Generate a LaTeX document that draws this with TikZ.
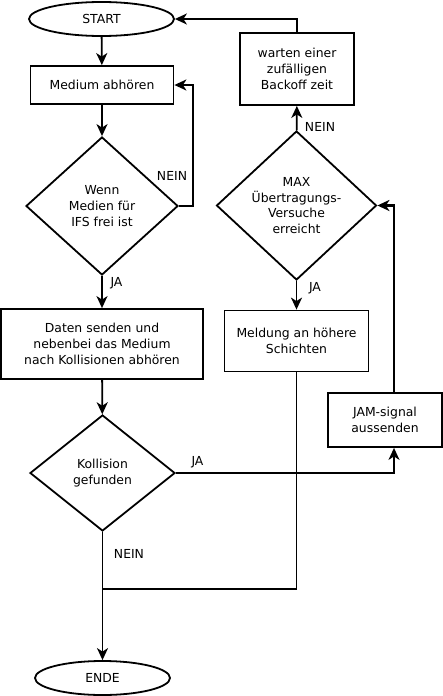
\documentclass[tikz,border=0pt]{standalone}
\usepackage{fontspec}
\setmainfont{DejaVu Sans}
\usetikzlibrary{arrows.meta,shapes.geometric,calc}
\tikzset{
  base/.style={draw=black,line width=1.8pt,font=\fontsize{12.4}{15.8}\selectfont,align=center,inner sep=0pt},
  term/.style={base,ellipse},
  proc/.style={base,rectangle},
  dec/.style={base,diamond},
  lbl/.style={font=\fontsize{12.4}{15.8}\selectfont,inner sep=0pt},
  conn/.style={line width=1.8pt,draw=black},
  arr/.style={conn,-{Stealth[length=12pt,width=11pt,inset=3.5pt]}},
}
\begin{document}
\begin{tikzpicture}[x=1pt,y=-1pt]
\useasboundingbox[fill=white] (0,0) rectangle (443,696);
% nodes
\node[term,minimum width=145pt,minimum height=34pt] (start) at (101.5,19) {START};
\node[proc,minimum width=143pt,minimum height=38pt] (medium) at (102,85) {Medium abhören};
\node[dec,minimum width=152pt,minimum height=138pt] (d1) at (102,206) {Wenn\\Medien für\\IFS frei ist};
\node[proc,minimum width=202pt,minimum height=70pt] (daten) at (102,344) {Daten senden und\\nebenbei das Medium\\nach Kollisionen abhören};
\node[dec,minimum width=145pt,minimum height=116pt] (d3) at (102.5,473) {Kollision\\gefunden};
\node[term,minimum width=135pt,minimum height=34pt] (ende) at (102.5,678) {ENDE};
\node[proc,minimum width=114pt,minimum height=72pt] (warten) at (297,69) {warten einer\\zufälligen\\Backoff zeit};
\node[dec,minimum width=160pt,minimum height=149pt] (d2) at (296.5,205.5) {MAX\\Übertragungs-\\Versuche\\erreicht};
\node[proc,minimum width=144pt,minimum height=61pt] (meldung) at (296.5,341) {Meldung an höhere\\Schichten};
\node[proc,minimum width=114pt,minimum height=54pt] (jam) at (385,420) {JAM-signal\\aussenden};
% labels
\node[lbl] (l1) at (172,176) {NEIN};
\node[lbl] (l2) at (116.5,283) {JA};
\node[lbl] (l3) at (320,127) {NEIN};
\node[lbl] (l4) at (315,288) {JA};
\node[lbl] (l5) at (197.5,462) {JA};
\node[lbl] (l6) at (129,554) {NEIN};
% helper coordinates
\coordinate (jamin) at ($(jam.south)+(9,0)$);
\coordinate (jamout) at ($(jam.north)+(9,0)$);
\coordinate (d1loop) at ($(d1.east)+(14,0)$);
\coordinate (merge) at (d3.south |- 0,589);
% connectors
\draw[arr] (start) -- (medium);
\draw[arr] (medium) -- (d1);
\draw[arr] (d1.east) -- (d1loop) |- (medium.east);
\draw[arr] (d1) -- (daten);
\draw[arr] (daten) -- (d3);
\draw[arr] (d3.east) -| (jamin);
\draw[arr,line width=2.7pt] (jamout) |- (d2.east);
\draw[arr] (d2) -- (warten);
\draw[arr] (warten.north) |- (start.east);
\draw[arr] (d2) -- (meldung);
\draw[conn] (meldung.south) |- (merge);
\draw[arr] (d3.south) -- (ende.north);
\end{tikzpicture}
\end{document}
